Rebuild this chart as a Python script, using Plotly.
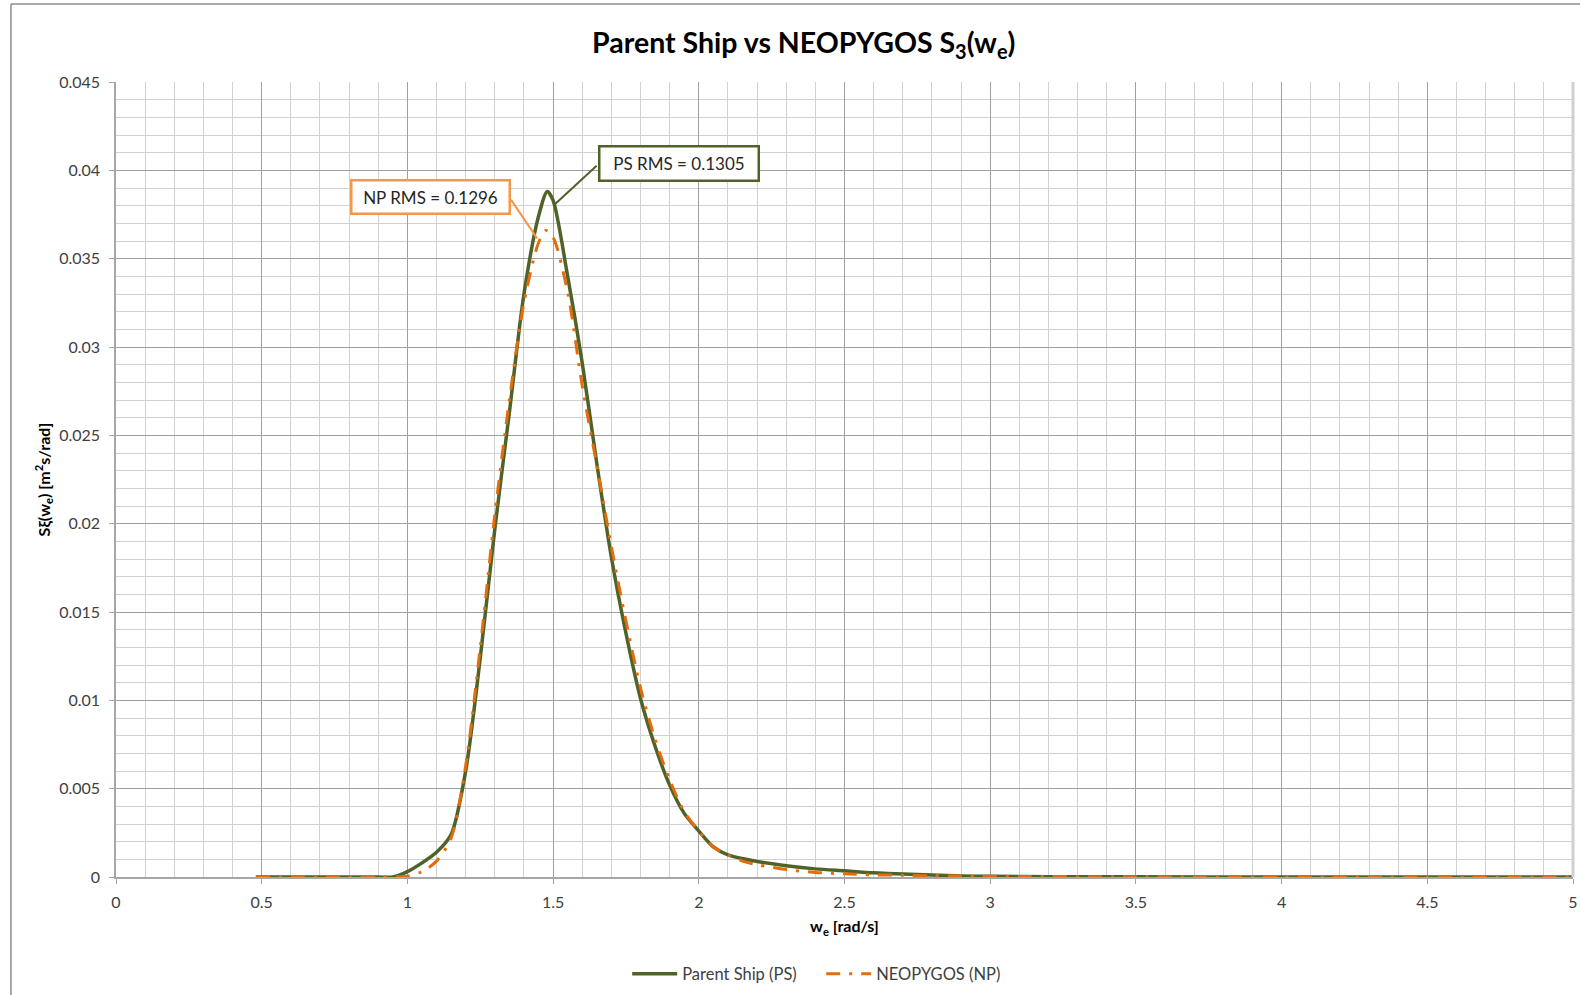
import plotly.graph_objects as go

# Encounter frequency w_e [rad/s] and heave response spectrum S3(w_e) [m^2 s/rad]
ps_we = [0.48, 0.6, 0.7, 0.8, 0.9, 0.95, 1.0, 1.05, 1.1, 1.15, 1.2, 1.25, 1.3, 1.35,
         1.4, 1.45, 1.48, 1.5, 1.55, 1.6, 1.65, 1.7, 1.75, 1.8, 1.85, 1.9, 1.95, 2.0,
         2.05, 2.1, 2.2, 2.3, 2.4, 2.5, 2.6, 2.7, 2.8, 2.9, 3.0, 3.2, 3.5, 4.0, 4.5, 5.0]
ps_s3 = [0, 0, 0, 0, 0, 0, 0.0003, 0.0008, 0.0014, 0.0024, 0.0060, 0.0124, 0.0197, 0.0263,
         0.0330, 0.0374, 0.0388, 0.0383, 0.0340, 0.0291, 0.0234, 0.0181, 0.0138, 0.0101,
         0.0074, 0.0052, 0.0036, 0.0026, 0.0017, 0.00125, 0.00088, 0.00064, 0.00046,
         0.00035, 0.00024, 0.00017, 0.00011, 0.00006, 0.00004, 0.00002, 0.00001, 0, 0, 0]

np_we = [0.48, 0.6, 0.7, 0.8, 0.9, 1.0, 1.05, 1.1, 1.15, 1.2, 1.25, 1.3, 1.35, 1.4, 1.45,
         1.475, 1.5, 1.55, 1.6, 1.65, 1.7, 1.75, 1.8, 1.85, 1.9, 1.95, 2.0, 2.05, 2.1,
         2.15, 2.2, 2.3, 2.4, 2.5, 2.6, 2.7, 2.8, 2.9, 3.0, 3.5, 4.0, 4.5, 5.0]
np_s3 = [0, 0, 0, 0, 0, 0.00005, 0.0003, 0.0009, 0.0022, 0.0063, 0.0130, 0.0205, 0.0270,
         0.0325, 0.0359, 0.0366, 0.0362, 0.0331, 0.0278, 0.0233, 0.0187, 0.0145, 0.0107,
         0.0078, 0.0055, 0.0037, 0.0026, 0.0017, 0.00125, 0.0009, 0.0007, 0.00042,
         0.00026, 0.00018, 0.00012, 0.0001, 0.00007, 0.00005, 0.00004, 0.00001, 0, 0, 0]

ps_rms = 0.1305
np_rms = 0.1296

GREEN = "#4F6228"
ORANGE = "#E46C0A"
BOX_ORANGE = "#F79646"
FONT = "Lato"

fig = go.Figure()
fig.add_trace(go.Scatter(
    x=ps_we, y=ps_s3, mode="lines", name="Parent Ship (PS)",
    line=dict(color=GREEN, width=3.5, shape="spline", smoothing=0.8),
))
fig.add_trace(go.Scatter(
    x=np_we, y=np_s3, mode="lines", name="NEOPYGOS (NP)",
    line=dict(color=ORANGE, width=3, shape="spline", smoothing=0.8,
              dash="14px,9px,3px,9px"),
))

# RMS call-out boxes with leader lines to the spectral peaks
box_font = dict(family=FONT, size=17, color="#262626")
fig.add_annotation(x=1.078, y=0.03847, xref="x", yref="y", text=f"NP RMS = {np_rms}",
                   showarrow=False, font=box_font, bgcolor="white",
                   bordercolor=BOX_ORANGE, borderwidth=2.5, borderpad=2,
                   width=152, height=27)
fig.add_annotation(x=1.932, y=0.04039, xref="x", yref="y", text=f"PS RMS = {ps_rms}",
                   showarrow=False, font=box_font, bgcolor="white",
                   bordercolor=GREEN, borderwidth=2.5, borderpad=2,
                   width=153, height=28)
fig.add_annotation(x=1.445, y=0.03615, xref="x", yref="y", text="",
                   showarrow=True, arrowhead=0, arrowwidth=2, arrowcolor=BOX_ORANGE,
                   axref="x", ayref="y", ax=1.3524, ay=0.03841, standoff=0, startstandoff=0)
fig.add_annotation(x=1.507, y=0.0381, xref="x", yref="y", text="",
                   showarrow=True, arrowhead=0, arrowwidth=2, arrowcolor=GREEN,
                   axref="x", ayref="y", ax=1.6545, ay=0.04034, standoff=0, startstandoff=0)

# Chart-area frame (left and top edges)
fig.add_shape(type="line", xref="paper", yref="paper", x0=-0.0721, x1=-0.0721,
              y0=-0.16, y1=1.098, line=dict(color="#8C8C8C", width=1.5))
fig.add_shape(type="line", xref="paper", yref="paper", x0=-0.0721, x1=1.01,
              y0=1.098, y1=1.098, line=dict(color="#8C8C8C", width=1.5))
fig.add_shape(type="line", xref="paper", yref="paper", x0=1, x1=1,
              y0=0, y1=1, line=dict(color="#D0D0D0", width=3))

tick_font = dict(family=FONT, size=16, color="#404040")
axis_title_font = dict(family=FONT, size=16, color="#000000")

fig.update_xaxes(
    range=[0, 5], dtick=0.5, tick0=0, showgrid=True, gridcolor="#A0A0A0", gridwidth=1,
    minor=dict(dtick=0.1, showgrid=True, gridcolor="#D2D2D2", gridwidth=1),
    showline=True, linecolor="#A6A6A6", linewidth=1.5, ticks="outside", ticklen=5,
    tickcolor="#A6A6A6", tickfont=tick_font, ticklabelstandoff=5, zeroline=False,
    title=dict(text="<b>w<sub>e</sub> [rad/s]</b>", font=axis_title_font, standoff=11),
)
fig.update_yaxes(
    range=[0, 0.045], dtick=0.005, tick0=0, showgrid=True, gridcolor="#A0A0A0", gridwidth=1,
    minor=dict(dtick=0.001, showgrid=True, gridcolor="#D2D2D2", gridwidth=1),
    showline=True, linecolor="#A6A6A6", linewidth=1.5, ticks="outside", ticklen=5,
    tickcolor="#A6A6A6", tickfont=tick_font, ticklabelstandoff=6, zeroline=False,
    title=dict(text="<b>Sξ(w<sub>e</sub>) [m<sup>2</sup>s/rad]</b>",
               font=axis_title_font, standoff=5),
)

fig.update_layout(
    width=1580, height=995,
    margin=dict(l=116, r=7, t=82, b=118, autoexpand=False),
    paper_bgcolor="white", plot_bgcolor="white",
    font=dict(family=FONT, color="#404040"),
    title=dict(text="<b>Parent Ship vs NEOPYGOS S<sub>3</sub>(w<sub>e</sub>)</b>",
               x=0.472, xref="paper", xanchor="center",
               y=0.957, yref="container", yanchor="middle",
               font=dict(family=FONT, size=28.5, color="#000000")),
    showlegend=True,
    legend=dict(orientation="h", x=0.484, xanchor="center",
                yref="container", y=0.0211, yanchor="middle",
                font=dict(family=FONT, size=16.5, color="#404040"),
                itemwidth=45, entrywidth=134, entrywidthmode="pixels",
                bgcolor="rgba(0,0,0,0)"),
)

fig.write_html("out.html")
